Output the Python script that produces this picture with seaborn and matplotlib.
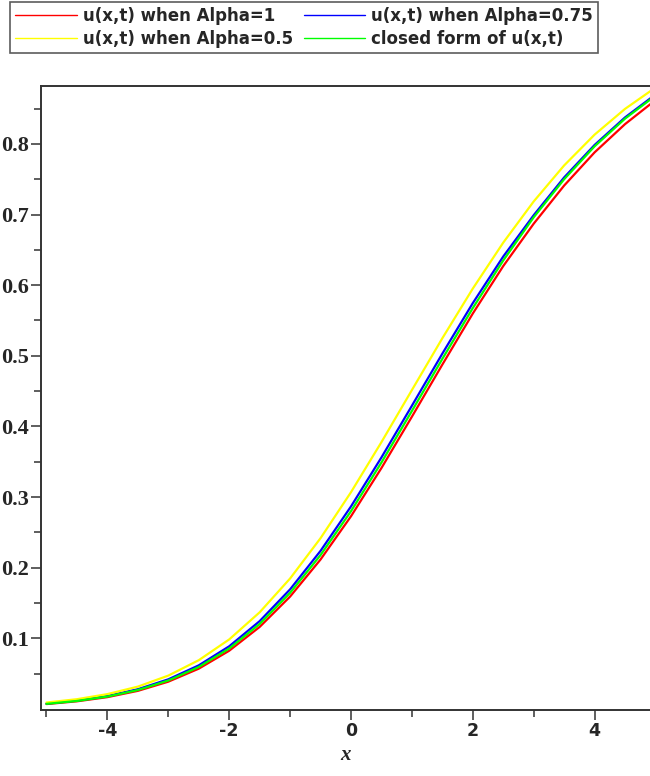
import matplotlib
matplotlib.use("Agg")
import matplotlib.pyplot as plt
from matplotlib.ticker import FixedLocator, NullFormatter
import pandas as pd
import seaborn as sns

# Sample positions along x
x_values = [-5.0, -4.5, -4.0, -3.5, -3.0, -2.5, -2.0, -1.5, -1.0, -0.5, 0.0,
            0.5, 1.0, 1.5, 2.0, 2.5, 3.0, 3.5, 4.0, 4.5, 5.0]

# u(x,t) for the three fractional orders and the closed form
u_alpha_1 = [0.0068, 0.0107, 0.0166, 0.0255, 0.0385, 0.0569, 0.0823, 0.1160,
             0.1590, 0.2115, 0.2727, 0.3410, 0.4137, 0.4875, 0.5598, 0.6270,
             0.6870, 0.7410, 0.7880, 0.8280, 0.8620]
u_alpha_075 = [0.0075, 0.0117, 0.0182, 0.0278, 0.0418, 0.0616, 0.0886, 0.1242,
               0.1692, 0.2237, 0.2866, 0.3560, 0.4292, 0.5030, 0.5745, 0.6405,
               0.6990, 0.7525, 0.7985, 0.8375, 0.8700]
u_alpha_05 = [0.0090, 0.0137, 0.0209, 0.0315, 0.0471, 0.0689, 0.0983, 0.1367,
              0.1846, 0.2417, 0.3068, 0.3777, 0.4514, 0.5248, 0.5951, 0.6602,
              0.7185, 0.7695, 0.8131, 0.8496, 0.8798]
u_closed = [0.0071, 0.0112, 0.0174, 0.0267, 0.0402, 0.0593, 0.0855, 0.1202,
            0.1643, 0.2178, 0.2799, 0.3488, 0.4218, 0.4956, 0.5675, 0.6349,
            0.6961, 0.7500, 0.7966, 0.8358, 0.8684]

series_labels = ["u(x,t) when Alpha=1", "u(x,t) when Alpha=0.75",
                 "u(x,t) when Alpha=0.5", "closed form of u(x,t)"]
series_colors = ["#ff0000", "#0000ff", "#ffff00", "#00ff00"]

x_major = [-4, -2, 0, 2, 4]
x_minor = [-5, -3, -1, 1, 3]
y_major = [0.1, 0.2, 0.3, 0.4, 0.5, 0.6, 0.7, 0.8]
y_minor = [0.05, 0.15, 0.25, 0.35, 0.45, 0.55, 0.65, 0.75, 0.85]

frames = []
for label, values in zip(series_labels,
                         [u_alpha_1, u_alpha_075, u_alpha_05, u_closed]):
    frames.append(pd.DataFrame({"x": x_values, "u": values, "series": label}))
data = pd.concat(frames, ignore_index=True)

sns.set_style("white")
fig = plt.figure(figsize=(6.5, 7.76), dpi=100)
ax = fig.add_axes([41 / 650, 66 / 776, 609 / 650, 624 / 776])

sns.lineplot(data=data, x="x", y="u", hue="series", hue_order=series_labels,
             palette=dict(zip(series_labels, series_colors)), linewidth=1.6,
             sort=False, legend=False, ax=ax)

ax.set_xlim(-5.09, 4.91)
ax.set_ylim(-0.0016, 0.882)

ax.xaxis.set_major_locator(FixedLocator(x_major))
ax.xaxis.set_minor_locator(FixedLocator(x_minor))
ax.yaxis.set_major_locator(FixedLocator(y_major))
ax.yaxis.set_minor_locator(FixedLocator(y_minor))
ax.xaxis.set_minor_formatter(NullFormatter())
ax.yaxis.set_minor_formatter(NullFormatter())
ax.set_xticklabels([str(v) for v in x_major])
ax.set_yticklabels([f"{v:.1f}" for v in y_major])

ax.tick_params(axis="both", which="both", bottom=True, left=True,
               top=False, right=False, direction="out", width=1.1,
               color="#333333")
ax.tick_params(axis="both", which="major", length=7, pad=2)
ax.tick_params(axis="both", which="minor", length=5)
for lab in ax.get_xticklabels():
    lab.set_fontfamily("DejaVu Sans")
    lab.set_fontweight("bold")
    lab.set_fontsize(12.5)
for lab in ax.get_yticklabels():
    lab.set_fontfamily("Liberation Serif")
    lab.set_fontweight("bold")
    lab.set_fontsize(16)

for side in ["left", "bottom", "top"]:
    ax.spines[side].set_color("#333333")
    ax.spines[side].set_linewidth(1.4)
ax.spines["right"].set_visible(False)

ax.set_xlabel("x", fontfamily="Liberation Serif", fontstyle="italic",
              fontweight="bold", fontsize=15, labelpad=3)
ax.set_ylabel("")

# Legend in two rows across the top of the figure
handles = [plt.Line2D([], [], color=c, linewidth=1.0) for c in series_colors]
order = [0, 2, 1, 3]
leg = fig.legend([handles[i] for i in order], [series_labels[i] for i in order],
                 ncol=2, loc="upper left", bbox_to_anchor=(10 / 650, 1 - 2 / 776),
                 borderaxespad=0, frameon=True, fancybox=False,
                 edgecolor="#333333", handlelength=3.7, handletextpad=0.36,
                 columnspacing=0.65, labelspacing=0.3, borderpad=0.3,
                 prop={"family": "DejaVu Sans", "weight": "bold", "size": 12})
leg.get_frame().set_linewidth(1.2)

fig.savefig("out.png", dpi=100)
